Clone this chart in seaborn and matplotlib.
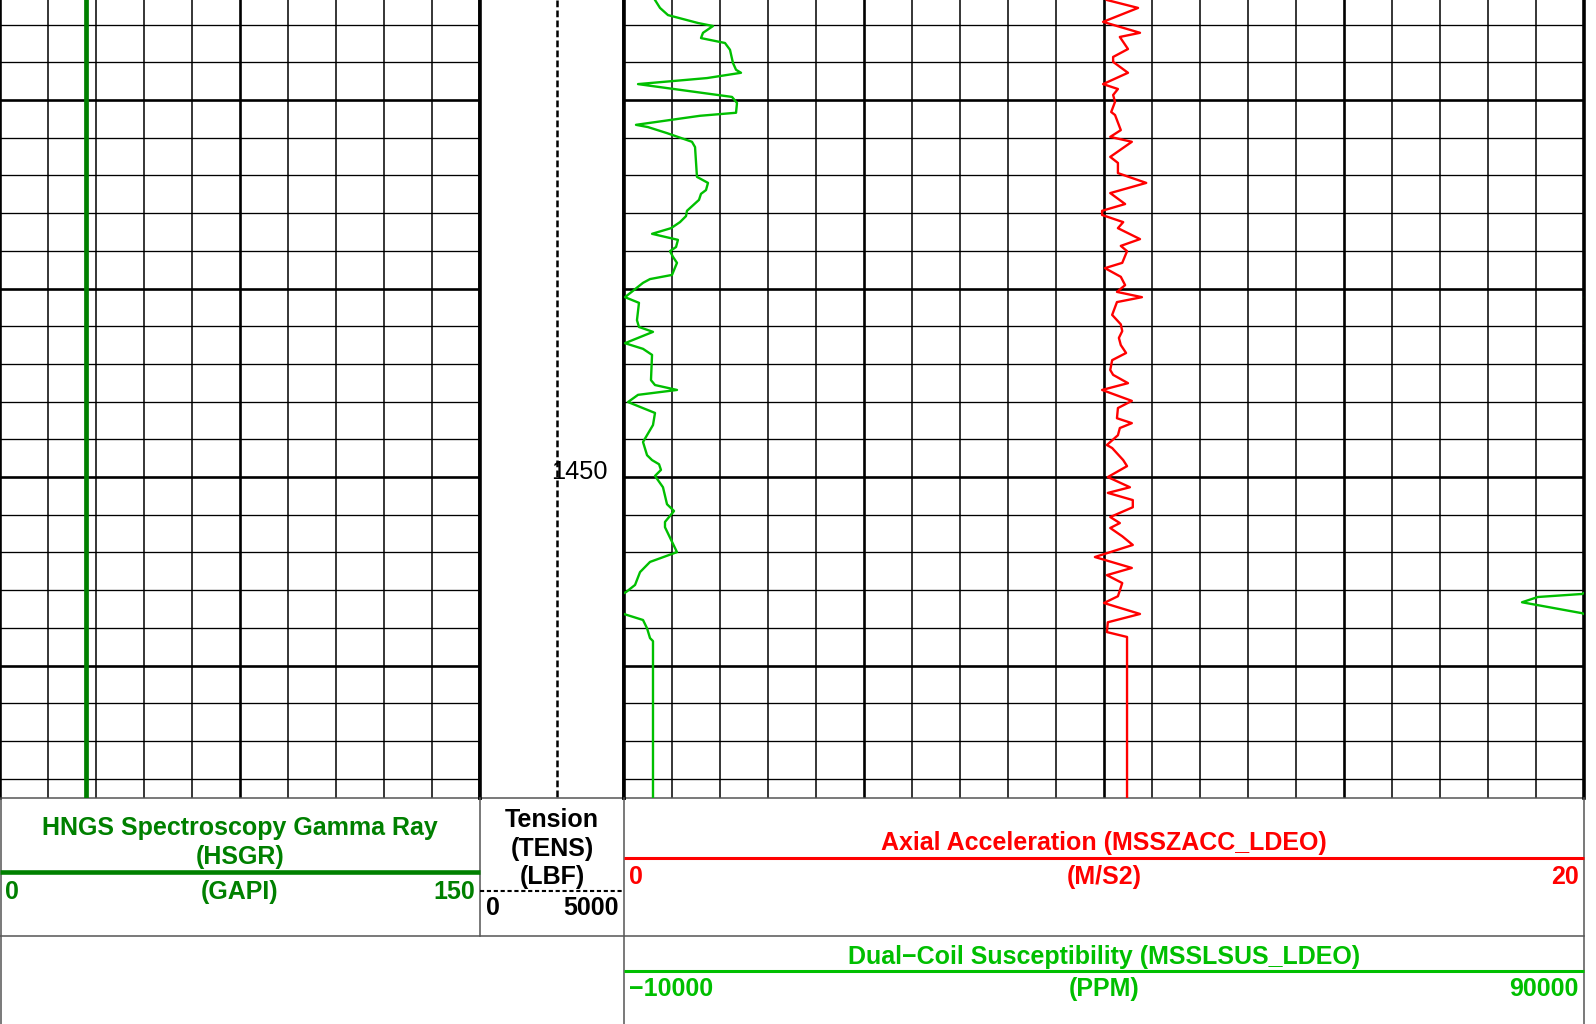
import numpy as np
import matplotlib
matplotlib.use("Agg")
import matplotlib.pyplot as plt
import seaborn as sns

# ---------------------------------------------------------------- log data
# Dual-coil magnetic susceptibility (PPM) against depth (m)
sus_depth = [1437.35, 1437.56, 1437.75, 1437.96, 1438.04, 1438.22, 1438.36, 1438.49,
             1438.67, 1439.02, 1439.20, 1439.28, 1439.42, 1439.58, 1439.66, 1439.92,
             1440.08, 1440.34, 1440.42, 1440.66, 1440.72, 1440.88, 1441.11, 1441.25,
             1442.04, 1442.20, 1442.39, 1442.49, 1442.65, 1442.94, 1443.08, 1443.24,
             1443.40, 1443.55, 1443.71, 1443.90, 1444.01, 1444.16, 1444.32, 1444.64,
             1444.75, 1444.85, 1445.23, 1445.38, 1445.84, 1446.02, 1446.15, 1446.45,
             1446.60, 1446.76, 1447.43, 1447.56, 1447.69, 1447.82, 1448.01, 1448.14,
             1448.30, 1448.62, 1449.07, 1449.42, 1449.55, 1449.66, 1449.81, 1449.97,
             1450.27, 1450.72, 1450.90, 1451.19, 1451.33, 1451.99, 1452.25, 1452.52,
             1452.86, 1453.05, 1453.10, 1453.18, 1453.32, 1453.61, 1453.64, 1453.79,
             1454.01, 1454.27, 1454.35, 1458.51]
sus_value = [-6770, -6250, -5420, -2290, -730, -1770, -1980, 520,
             1040, 1350, 1670, 2190, -1350, -8540, -6250, 1250,
             1770, 1670, -2080, -8750, -7500, -5520, -2920, -2600,
             -2400, -1250, -1460, -1980, -2190, -3440, -3540, -4170,
             -5100, -7080, -4380, -4580, -5210, -4900, -4480, -5000,
             -7290, -8020, -9900, -8440, -8650, -8440, -6980, -9900,
             -8020, -7080, -7190, -6770, -4480, -8540, -9580, -8330,
             -6770, -6980, -8020, -7600, -7080, -6350, -6150, -6770,
             -5940, -5520, -4790, -5730, -5730, -4480, -7290, -8330,
             -8850, -9790, -10200, -14800, -16460, -10200, -9900, -8020,
             -7600, -7290, -6980, -6980]

# Axial acceleration (m/s2) against depth (m)
acc_depth = [1437.35, 1437.56, 1437.93, 1438.22, 1438.33, 1438.65, 1438.86, 1438.99,
             1439.28, 1439.58, 1439.71, 1439.87, 1440.05, 1440.32, 1440.40, 1440.80,
             1440.98, 1441.11, 1441.51, 1441.67, 1441.94, 1442.20, 1442.47, 1442.76,
             1442.94, 1443.05, 1443.24, 1443.40, 1443.69, 1443.87, 1444.01, 1444.32,
             1444.46, 1444.69, 1444.91, 1445.09, 1445.23, 1445.36, 1445.70, 1445.95,
             1446.13, 1446.31, 1446.50, 1446.71, 1446.90, 1447.16, 1447.29, 1447.51,
             1447.69, 1447.98, 1448.17, 1448.44, 1448.57, 1448.70, 1448.89, 1449.15,
             1449.23, 1449.55, 1449.71, 1450.00, 1450.27, 1450.42, 1450.61, 1450.80,
             1451.06, 1451.22, 1451.35, 1451.57, 1451.80, 1452.12, 1452.41, 1452.60,
             1452.81, 1453.16, 1453.34, 1453.63, 1453.85, 1454.11, 1454.24, 1458.51]
acc_value = [10.06, 10.71, 9.98, 10.75, 10.33, 10.50, 10.19, 10.19,
             10.50, 9.98, 10.29, 10.19, 10.23, 10.15, 10.23, 10.35,
             10.13, 10.58, 10.13, 10.29, 10.29, 10.88, 10.13, 10.44,
             9.96, 9.96, 10.40, 10.29, 10.75, 10.35, 10.48, 10.38,
             10.02, 10.35, 10.44, 10.27, 10.79, 10.27, 10.17, 10.35,
             10.38, 10.31, 10.35, 10.46, 10.17, 10.13, 10.19, 10.50,
             9.96, 10.58, 10.29, 10.27, 10.58, 10.33, 10.29, 10.06,
             10.17, 10.40, 10.48, 10.08, 10.54, 10.08, 10.60, 10.60,
             10.13, 10.33, 10.13, 10.38, 10.60, 9.81, 10.58, 10.06,
             10.38, 10.29, 10.00, 10.75, 10.08, 10.06, 10.48, 10.48]

# Gamma ray (GAPI) and cable tension (LBF) stay flat over this interval
gr_depth = [1437.35, 1458.51]
gr_value = [26.9, 26.9]
tens_depth = [1437.35, 1458.51]
tens_value = [2670, 2670]

depth_top, depth_bottom = 1437.35, 1458.51
depth_labels = [1450]

# track scales
gr_range = (0, 150)
tens_range = (0, 5000)
acc_range = (0, 20)
sus_range = (-10000, 90000)
sus_wrap = sus_range[1] - sus_range[0]   # backup-scale wrap for the susceptibility curve

# ---------------------------------------------------------------- styling
GR_GREEN = "#008000"
SUS_GREEN = "#00BF00"
ACC_RED = "#FF0000"
BOX_GREY = "#555555"

plt.rcParams["font.family"] = ["Liberation Sans", "DejaVu Sans"]

W, H = 1596, 1024
fig = plt.figure(figsize=(W / 100, H / 100), dpi=100)


def rect(x0, y0, x1, y1):
    """Figure rectangle from pixel edges measured from the top-left corner."""
    return [x0 / W, 1 - y1 / H, (x1 - x0) / W, (y1 - y0) / H]


PLOT_BOTTOM = 798
ax_gr = fig.add_axes(rect(0, 0, 480, PLOT_BOTTOM))
ax_dep = fig.add_axes(rect(480, 0, 624, PLOT_BOTTOM))
ax_acc = fig.add_axes(rect(624, 0, 1584, PLOT_BOTTOM))
ax_sus = ax_acc.twiny()


def track_grid(ax, lo, hi, ndiv=None):
    if ndiv:
        step = (hi - lo) / ndiv
        for i in range(1, ndiv):
            ax.axvline(lo + i * step, color="black",
                       lw=1.9 if i % 5 == 0 else 1.1, zorder=1)
    for d in np.arange(np.ceil(depth_top), depth_bottom):
        ax.axhline(d, color="black", lw=1.9 if round(d) % 5 == 0 else 0.95, zorder=1)


# curves
sns.lineplot(x=gr_value, y=gr_depth, ax=ax_gr, color=GR_GREEN, lw=3.4,
             orient="y", estimator=None, sort=False, zorder=3)
sns.lineplot(x=tens_value, y=tens_depth, ax=ax_dep, color="black", lw=1.8,
             dashes=False, orient="y", estimator=None, sort=False, zorder=3)
ax_dep.lines[-1].set_dashes((2.7, 1.3))
sns.lineplot(x=acc_value, y=acc_depth, ax=ax_acc, color=ACC_RED, lw=1.7,
             orient="y", estimator=None, sort=False, zorder=3)
sns.lineplot(x=sus_value, y=sus_depth, ax=ax_sus, color=SUS_GREEN, lw=1.7,
             orient="y", estimator=None, sort=False, zorder=3)
sns.lineplot(x=np.array(sus_value) + sus_wrap, y=sus_depth, ax=ax_sus,
             color=SUS_GREEN, lw=1.7, orient="y", estimator=None, sort=False, zorder=3)

track_grid(ax_gr, *gr_range, ndiv=10)
track_grid(ax_acc, *acc_range, ndiv=20)

for ax, xr in [(ax_gr, gr_range), (ax_dep, tens_range), (ax_acc, acc_range), (ax_sus, sus_range)]:
    ax.set_xlim(*xr)
    ax.set_ylim(depth_bottom, depth_top)
    ax.set_xlabel("")
    ax.set_ylabel("")
    ax.tick_params(left=False, right=False, top=False, bottom=False,
                   labelleft=False, labelbottom=False, labeltop=False)

for ax in (ax_gr, ax_dep, ax_acc):
    ax.spines["top"].set_visible(False)
    for side in ("left", "right"):
        ax.spines[side].set_linewidth(2.6)
        ax.spines[side].set_color("black")
        ax.spines[side].set_zorder(4)
    ax.spines["bottom"].set_linewidth(1.1)
    ax.spines["bottom"].set_color(BOX_GREY)
for side in ax_sus.spines:
    ax_sus.spines[side].set_visible(False)

# depth annotation in the depth track
for d in depth_labels:
    ax_dep.annotate(f"{d}", xy=(1, d), xycoords=("axes fraction", "data"),
                    xytext=(-11.5, 3.6), textcoords="offset points",
                    ha="right", va="center", fontsize=18.3, color="black", zorder=5)

# ---------------------------------------------------------------- header
ax_h = fig.add_axes(rect(0, PLOT_BOTTOM, W, H))
ax_h.set_xlim(0, W)
ax_h.set_ylim(H, PLOT_BOTTOM)
ax_h.axis("off")

box_kw = dict(color=BOX_GREY, lw=1.1, clip_on=False)
ax_h.plot([0, 1584], [936, 936], **box_kw)
ax_h.plot([480, 480], [PLOT_BOTTOM, 936], **box_kw)
ax_h.plot([624, 624], [PLOT_BOTTOM, H], **box_kw)
ax_h.plot([0.6, 0.6], [PLOT_BOTTOM, H], **box_kw)
ax_h.plot([1584, 1584], [PLOT_BOTTOM, H], **box_kw)

FS = 18.0
txt = dict(fontsize=FS, fontweight="bold", va="center")

# gamma ray
ax_h.text(240, 828, "HNGS Spectroscopy Gamma Ray", color=GR_GREEN, ha="center", **txt)
ax_h.text(240, 857, "(HSGR)", color=GR_GREEN, ha="center", **txt)
ax_h.plot([0, 480], [872, 872], color=GR_GREEN, lw=3.3, solid_capstyle="butt")
ax_h.text(5, 892, f"{gr_range[0]}", color=GR_GREEN, ha="left", **txt)
ax_h.text(240, 892, "(GAPI)", color=GR_GREEN, ha="center", **txt)
ax_h.text(475, 892, f"{gr_range[1]}", color=GR_GREEN, ha="right", **txt)

# tension
ax_h.text(552, 820, "Tension", color="black", ha="center", **txt)
ax_h.text(552, 849, "(TENS)", color="black", ha="center", **txt)
ax_h.text(552, 877, "(LBF)", color="black", ha="center", **txt)
ax_h.plot([480, 624], [891, 891], color="black", lw=1.5, dashes=(2.0, 1.3))
ax_h.text(486, 908, f"{tens_range[0]}", color="black", ha="left", **txt)
ax_h.text(619, 908, f"{tens_range[1]}", color="black", ha="right", **txt)

# axial acceleration
ax_h.text(1104, 843, "Axial Acceleration (MSSZACC_LDEO)", color=ACC_RED, ha="center", **txt)
ax_h.plot([624, 1584], [858, 858], color=ACC_RED, lw=2.2, solid_capstyle="butt")
ax_h.text(629, 877, f"{acc_range[0]}", color=ACC_RED, ha="left", **txt)
ax_h.text(1104, 877, "(M/S2)", color=ACC_RED, ha="center", **txt)
ax_h.text(1579, 877, f"{acc_range[1]}", color=ACC_RED, ha="right", **txt)

# susceptibility
ax_h.text(1104, 957, "Dual\u2212Coil Susceptibility (MSSLSUS_LDEO)", color=SUS_GREEN,
          ha="center", **txt)
ax_h.plot([624, 1584], [971, 971], color=SUS_GREEN, lw=2.2, solid_capstyle="butt")
ax_h.text(629, 989, f"{sus_range[0]}".replace("-", "\u2212"), color=SUS_GREEN, ha="left", **txt)
ax_h.text(1104, 989, "(PPM)", color=SUS_GREEN, ha="center", **txt)
ax_h.text(1579, 989, f"{sus_range[1]}", color=SUS_GREEN, ha="right", **txt)

fig.savefig("out.png", dpi=100)
